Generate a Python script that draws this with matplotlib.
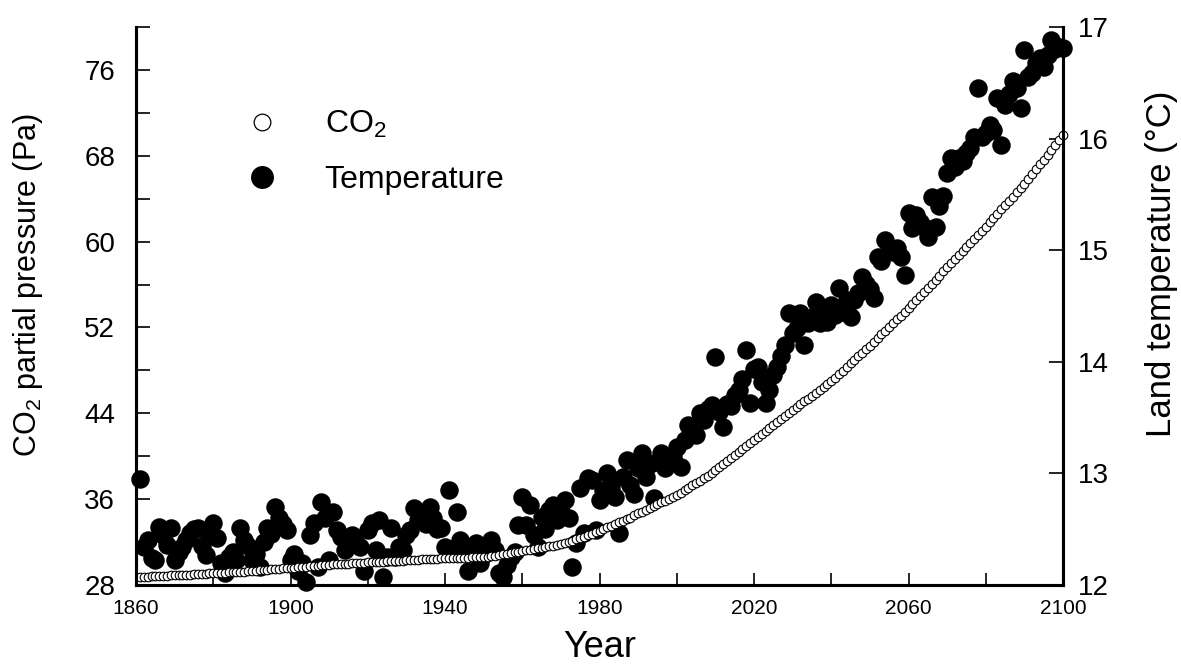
import numpy as np
import matplotlib.pyplot as plt
from matplotlib.lines import Line2D

plt.rcParams['font.family'] = ['Liberation Sans', 'DejaVu Sans']
plt.rcParams['mathtext.default'] = 'regular'

years = list(range(1861, 2101))

# CO2 partial pressure (Pa), one value per year
co2 = [
    28.75, 28.77, 28.79, 28.80, 28.82, 28.84, 28.86, 28.87, 28.89, 28.90,
    28.92, 28.94, 28.96, 28.98, 29.00, 29.02, 29.04, 29.06, 29.08, 29.10,
    29.12, 29.14, 29.16, 29.18, 29.20, 29.22, 29.24, 29.26, 29.28, 29.30,
    29.33, 29.36, 29.39, 29.42, 29.45, 29.48, 29.51, 29.54, 29.57, 29.60,
    29.63, 29.66, 29.69, 29.72, 29.75, 29.78, 29.81, 29.84, 29.87, 29.90,
    29.92, 29.94, 29.96, 29.98, 30.00, 30.02, 30.04, 30.06, 30.08, 30.10,
    30.12, 30.14, 30.16, 30.18, 30.20, 30.22, 30.24, 30.26, 30.28, 30.30,
    30.32, 30.34, 30.36, 30.38, 30.40, 30.42, 30.44, 30.46, 30.48, 30.50,
    30.51, 30.52, 30.53, 30.54, 30.55, 30.56, 30.57, 30.58, 30.59, 30.60,
    30.65, 30.70, 30.75, 30.80, 30.86, 30.92, 30.98, 31.04, 31.10, 31.18,
    31.24, 31.30, 31.36, 31.42, 31.48, 31.54, 31.60, 31.66, 31.72, 31.80,
    31.90, 32.02, 32.14, 32.26, 32.38, 32.50, 32.63, 32.76, 32.92, 33.08,
    33.23, 33.38, 33.53, 33.68, 33.83, 33.98, 34.13, 34.28, 34.48, 34.68,
    34.85, 35.02, 35.19, 35.36, 35.53, 35.70, 35.87, 36.04, 36.22, 36.40,
    36.62, 36.84, 37.06, 37.28, 37.50, 37.72, 37.94, 38.18, 38.44, 38.70,
    38.98, 39.26, 39.54, 39.82, 40.10, 40.38, 40.66, 40.94, 41.22, 41.50,
    41.78, 42.06, 42.34, 42.62, 42.90, 43.18, 43.46, 43.74, 44.02, 44.30,
    44.57, 44.84, 45.11, 45.38, 45.65, 45.92, 46.19, 46.46, 46.73, 47.00,
    47.33, 47.66, 47.99, 48.32, 48.65, 48.98, 49.31, 49.64, 49.97, 50.30,
    50.65, 51.00, 51.35, 51.70, 52.05, 52.40, 52.75, 53.10, 53.45, 53.80,
    54.18, 54.56, 54.94, 55.32, 55.70, 56.08, 56.46, 56.84, 57.22, 57.60,
    57.98, 58.36, 58.74, 59.12, 59.50, 59.88, 60.26, 60.64, 61.02, 61.40,
    61.80, 62.20, 62.60, 63.00, 63.40, 63.80, 64.20, 64.60, 65.00, 65.40,
    65.85, 66.30, 66.75, 67.20, 67.65, 68.10, 68.55, 69.00, 69.45, 69.90,
]

# land temperature (deg C), one value per year
temp = [
    12.95, 12.34, 12.40, 12.24, 12.22, 12.52, 12.45, 12.36, 12.51, 12.22,
    12.30, 12.34, 12.40, 12.47, 12.50, 12.51, 12.35, 12.27, 12.45, 12.56,
    12.42, 12.20, 12.11, 12.25, 12.30, 12.22, 12.51, 12.40, 12.35, 12.22,
    12.28, 12.16, 12.39, 12.51, 12.46, 12.70, 12.60, 12.55, 12.49, 12.22,
    12.28, 12.13, 12.20, 12.03, 12.45, 12.56, 12.16, 12.74, 12.60, 12.22,
    12.65, 12.49, 12.43, 12.31, 12.40, 12.45, 12.38, 12.34, 12.13, 12.49,
    12.56, 12.31, 12.58, 12.07, 12.25, 12.51, 12.25, 12.34, 12.31, 12.45,
    12.49, 12.69, 12.58, 12.62, 12.55, 12.70, 12.60, 12.50, 12.51, 12.34,
    12.85, 12.29, 12.65, 12.40, 12.31, 12.13, 12.33, 12.38, 12.20, 12.29,
    12.35, 12.40, 12.31, 12.11, 12.07, 12.18, 12.25, 12.30, 12.54, 12.79,
    12.54, 12.72, 12.45, 12.34, 12.61, 12.50, 12.67, 12.72, 12.58, 12.65,
    12.76, 12.60, 12.16, 12.38, 12.87, 12.47, 12.96, 12.94, 12.49, 12.76,
    12.85, 13.00, 12.88, 12.79, 12.47, 12.97, 13.12, 12.90, 12.82, 13.05,
    13.18, 12.97, 13.08, 12.78, 13.10, 13.18, 13.05, 13.12, 13.15, 13.24,
    13.06, 13.30, 13.43, 13.38, 13.34, 13.54, 13.48, 13.58, 13.61, 14.04,
    13.55, 13.42, 13.62, 13.60, 13.70, 13.75, 13.85, 14.11, 13.63, 13.94,
    13.95, 13.82, 13.63, 13.75, 13.88, 13.95, 14.05, 14.15, 14.44, 14.26,
    14.30, 14.44, 14.15, 14.35, 14.40, 14.54, 14.35, 14.48, 14.36, 14.51,
    14.42, 14.66, 14.45, 14.55, 14.40, 14.55, 14.62, 14.76, 14.70, 14.65,
    14.57, 14.94, 14.90, 15.09, 15.00, 14.98, 15.02, 14.94, 14.78, 15.33,
    15.20, 15.32, 15.25, 15.21, 15.12, 15.48, 15.21, 15.40, 15.49, 15.69,
    15.83, 15.75, 15.83, 15.80, 15.87, 15.92, 16.01, 16.45, 16.01, 16.05,
    16.12, 16.08, 16.36, 15.94, 16.30, 16.40, 16.52, 16.45, 16.27, 16.79,
    16.55, 16.59, 16.68, 16.72, 16.64, 16.75, 16.88, 16.80, 16.82, 16.81,
]

fig = plt.figure(figsize=(11.81, 6.67), dpi=100)
ax = fig.add_axes([0.1152, 0.1229, 0.7849, 0.8366])
ax2 = ax.twinx()

# temperature on the right axis, co2 drawn on top of it
ax2.plot(years, temp, 'o', color='black', ms=12.3, mec='black', clip_on=False)
ax.plot(years, co2, 'o', mfc='white', mec='black', ms=6.2, mew=0.8, clip_on=False)
ax.set_zorder(ax2.get_zorder() + 1)
ax.patch.set_visible(False)

ax.set_xlim(1860, 2100)
ax.set_ylim(28, 80)
ax2.set_ylim(12, 17)

ax.set_xticks(np.arange(1860, 2101, 40))
ax.set_xticks(np.arange(1880, 2100, 40), minor=True)
ax.set_yticks(np.arange(28, 77, 8))
ax.set_yticks(np.arange(32, 81, 8), minor=True)
ax2.set_yticks(np.arange(12, 18, 1))

ax.tick_params(axis='x', which='both', direction='in', length=9, width=1.2,
               labelsize=15, pad=10)
ax.tick_params(axis='y', which='both', direction='in', length=10, width=1.2,
               labelsize=20, pad=15)
ax2.tick_params(axis='y', direction='in', length=10, width=1.2,
                labelsize=20, pad=11)

for a in (ax, ax2):
    a.spines['top'].set_visible(False)
    for s in ('left', 'right', 'bottom'):
        a.spines[s].set_linewidth(2.2)

ax.set_xlabel('Year', fontsize=26, labelpad=9)
ax.set_ylabel('CO$_2$ partial pressure (Pa)', fontsize=22)
ax2.set_ylabel('Land temperature (°C)', fontsize=25)
ax.yaxis.set_label_coords(-0.098, 0.538)
ax2.yaxis.set_label_coords(1.088, 0.575)

handles = [
    Line2D([], [], marker='o', ls='none', mfc='white', mec='black', ms=12, mew=0.9),
    Line2D([], [], marker='o', ls='none', color='black', ms=15.5),
]
ax.legend(handles, ['CO$_2$', 'Temperature'], loc='upper left',
          bbox_to_anchor=(0.088, 0.905), frameon=False, fontsize=23,
          labelspacing=0.8, handlelength=1.0, handletextpad=1.45)

fig.savefig('out.png', dpi=100)
